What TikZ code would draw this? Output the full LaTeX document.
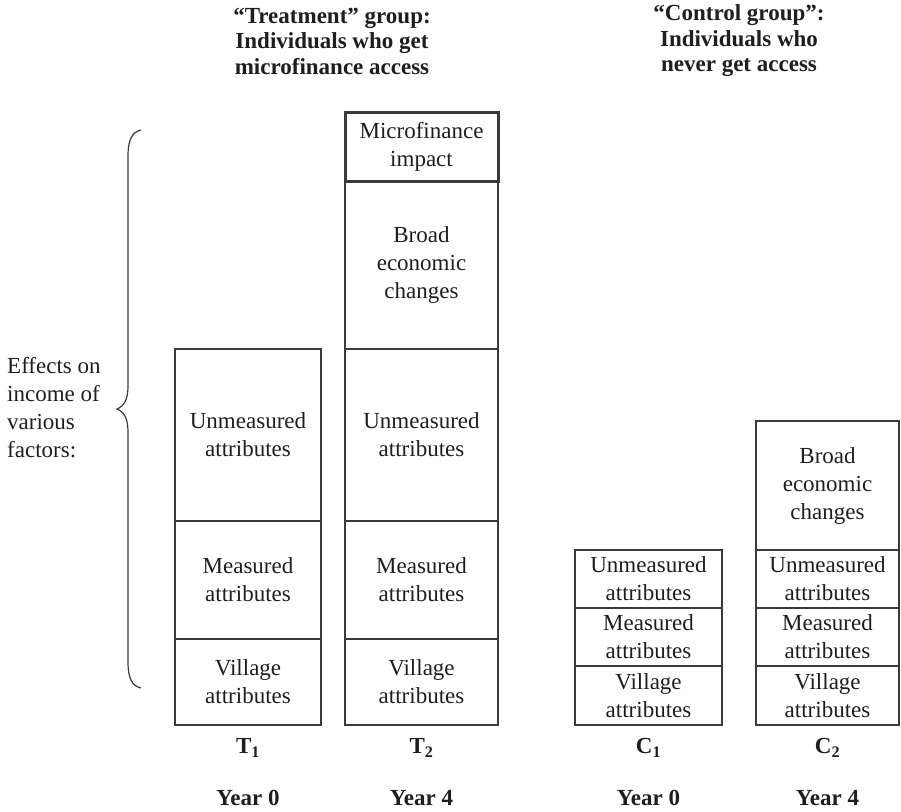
\documentclass[tikz,border=0pt]{standalone}
\usepackage{fontspec}
\setmainfont{Liberation Serif}
\definecolor{ink}{HTML}{1E1E1E}
\definecolor{rulecol}{HTML}{3A3A3A}
\begin{document}
\begin{tikzpicture}[x=1pt, y=-1pt,
  cell/.style={draw=rulecol, line width=1.3pt, text=ink, align=center,
    inner sep=0pt, font=\fontsize{23}{28}\selectfont},
  heavycell/.style={cell, line width=3pt},
  head/.style={text=ink, align=center, inner sep=0pt,
    font=\fontsize{23}{25.5}\selectfont\bfseries},
  sidelabel/.style={text=ink, align=left, inner sep=0pt,
    font=\fontsize{23}{28}\selectfont},
  brace/.style={draw=rulecol, line width=1.2pt}
]
\useasboundingbox (0,0) rectangle (901,811);

% column headers
\node[head] (treathead) at (332,41) {“Treatment” group:\\Individuals who get\\microfinance access};
\node[head] (ctrlhead) at (739,41) {“Control group”:\\Individuals who\\never get access};

% T1: year 0, treatment group
\node[cell, minimum width=146pt, minimum height=86pt]  (t1v) at (248,682) {Village\\attributes};
\node[cell, minimum width=146pt, minimum height=118pt] (t1m) at (248,580) {Measured\\attributes};
\node[cell, minimum width=146pt, minimum height=172pt] (t1u) at (248,435) {Unmeasured\\attributes};

% T2: year 4, treatment group
\node[cell, minimum width=153pt, minimum height=86pt]  (t2v) at (421.5,682) {Village\\attributes};
\node[cell, minimum width=153pt, minimum height=118pt] (t2m) at (421.5,580) {Measured\\attributes};
\node[cell, minimum width=153pt, minimum height=172pt] (t2u) at (421.5,435) {Unmeasured\\attributes};
\node[cell, minimum width=153pt, minimum height=168pt] (t2b) at (421.5,265) {Broad\\economic\\changes};
\node[heavycell, minimum width=153pt, minimum height=69pt] (t2i) at (421.5,146.5) {Microfinance\\impact};

% C1: year 0, control group
\node[cell, minimum width=147pt, minimum height=59pt] (c1v) at (648.5,695.5) {Village\\attributes};
\node[cell, minimum width=147pt, minimum height=58pt] (c1m) at (648.5,637) {Measured\\attributes};
\node[cell, minimum width=147pt, minimum height=58pt] (c1u) at (648.5,579) {Unmeasured\\attributes};

% C2: year 4, control group
\node[cell, minimum width=143pt, minimum height=59pt]  (c2v) at (827.5,695.5) {Village\\attributes};
\node[cell, minimum width=143pt, minimum height=58pt]  (c2m) at (827.5,637) {Measured\\attributes};
\node[cell, minimum width=143pt, minimum height=58pt]  (c2u) at (827.5,579) {Unmeasured\\attributes};
\node[cell, minimum width=143pt, minimum height=129pt] (c2b) at (827.5,485.5) {Broad\\economic\\changes};

% column names and years
\node[head] (t1name) at (248,748) {T\textsubscript{1}};
\node[head] (t2name) at (421.5,748) {T\textsubscript{2}};
\node[head] (c1name) at (648.5,748) {C\textsubscript{1}};
\node[head] (c2name) at (827.5,748) {C\textsubscript{2}};
\node[head] (t1year) at (248,798) {Year 0};
\node[head] (t2year) at (421.5,798) {Year 4};
\node[head] (c1year) at (648.5,798) {Year 0};
\node[head] (c2year) at (827.5,798) {Year 4};

% side label and curly brace
\node[sidelabel, anchor=west] (effects) at (7,408) {Effects on\\income of\\various\\factors:};
\draw[brace] (141,130) .. controls (132,132) and (128,140) .. (128,156)
  -- (128,386) .. controls (128,400) and (124,406) .. (117,409)
  .. controls (124,412) and (128,418) .. (128,432)
  -- (128,662) .. controls (128,678) and (132,686) .. (141,688);
\end{tikzpicture}
\end{document}
